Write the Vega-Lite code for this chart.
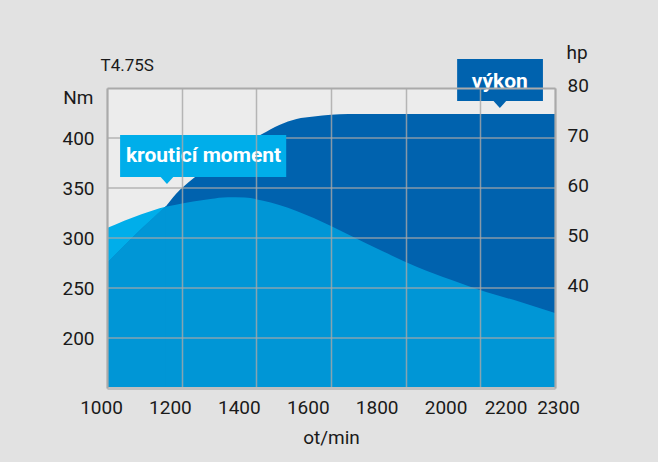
{
  "$schema": "https://vega.github.io/schema/vega-lite/v6.json",
  "width": 448,
  "height": 300,
  "autosize": {"type": "none"},
  "padding": {"left": 107, "top": 88, "right": 103, "bottom": 74},
  "background": "#e2e2e2",
  "config": {
    "view": {"fill": "#ececec", "stroke": null},
    "font": "Roboto",
    "axis": {
      "labelFont": "Roboto",
      "labelFontSize": 19,
      "labelColor": "#1a1a1a",
      "titleFont": "Roboto",
      "titleFontSize": 19,
      "titleFontWeight": "normal",
      "titleColor": "#1a1a1a",
      "ticks": false,
      "tickSize": 0,
      "domainColor": "#aaaaaa",
      "domainWidth": 2,
      "gridColor": "#a8a8a8",
      "gridOpacity": 0.8,
      "gridWidth": 1.5,
      "labelFlush": false,
      "labelOverlap": false
    }
  },
  "datasets": {
    "curves": [
      {"rpm": 1000, "torque": 310, "power": 45.0},
      {"rpm": 1100, "torque": 323.8, "power": 51.8},
      {"rpm": 1170, "torque": 331.3, "power": 56.26},
      {"rpm": 1200, "torque": 333.3, "power": 58.8},
      {"rpm": 1250, "torque": 336.5, "power": 61.9},
      {"rpm": 1300, "torque": 339, "power": 64.5},
      {"rpm": 1350, "torque": 340.7, "power": 66.8},
      {"rpm": 1400, "torque": 340.5, "power": 68.9},
      {"rpm": 1450, "torque": 337.5, "power": 70.8},
      {"rpm": 1500, "torque": 333, "power": 72.6},
      {"rpm": 1550, "torque": 327, "power": 73.8},
      {"rpm": 1600, "torque": 320, "power": 74.3},
      {"rpm": 1700, "torque": 303.5, "power": 74.8},
      {"rpm": 1800, "torque": 286.7, "power": 74.8},
      {"rpm": 1900, "torque": 271, "power": 74.8},
      {"rpm": 2000, "torque": 258, "power": 74.8},
      {"rpm": 2100, "torque": 246, "power": 74.8},
      {"rpm": 2200, "torque": 236, "power": 74.8},
      {"rpm": 2300, "torque": 225, "power": 74.8}
    ],
    "gridNm": [
      {"Nm": 200}, {"Nm": 250}, {"Nm": 300}, {"Nm": 350}, {"Nm": 400}
    ],
    "labels": [
      {"label": "krouticí moment", "x1": 1038, "x2": 1520, "y1": 403, "y2": 361, "tipX": 1174, "tipY": 357.5, "tx": 1280, "ty": 376},
      {"label": "výkon", "x1": 2016, "x2": 2265, "y1": 479, "y2": 437, "tipX": 2140, "tipY": 433.5, "tx": 2140, "ty": 450}
    ]
  },
  "resolve": {"scale": {"y": "independent"}, "axis": {"x": "independent", "y": "independent"}},
  "layer": [
    {
      "data": {"name": "curves"},
      "mark": {"type": "area", "color": "#00aeea", "interpolate": "monotone", "clip": true},
      "encoding": {
        "x": {
          "field": "rpm", "type": "quantitative",
          "scale": {"domain": [1000, 2300], "nice": false, "zero": false},
          "axis": {
            "orient": "bottom",
            "zindex": 1,
            "values": [1000, 1200, 1400, 1600, 1800, 2000, 2200, 2300],
            "format": "d",
            "grid": false,
            "labelPadding": 19,
            "labelBaseline": "middle",
            "labelOffset": {"condition": [{"test": "datum.value === 2200", "value": -15}, {"test": "datum.value === 2300", "value": 3}], "value": -6},
            "title": "ot/min",
            "titleY": 49,
            "titleBaseline": "middle",
            "domainColor": "#bfbfbf",
            "domainWidth": 3
          }
        },
        "y": {
          "field": "torque", "type": "quantitative",
          "scale": {"domain": [150, 450], "nice": false, "zero": false},
          "axis": {
            "orient": "left",
            "zindex": 1,
            "values": [200, 250, 300, 350, 400],
            "grid": false,
            "labelPadding": 13,
            "title": "Nm",
            "titleAngle": 0,
            "titleAlign": "right",
            "titleBaseline": "middle",
            "titleX": -14,
            "titleY": 9
          }
        },
        "y2": {"datum": 150}
      }
    },
    {
      "data": {"name": "curves"},
      "mark": {"type": "area", "color": "#0062ae", "interpolate": "monotone", "clip": true},
      "encoding": {
        "x": {
          "field": "rpm", "type": "quantitative",
          "scale": {"domain": [1000, 2300], "nice": false, "zero": false},
          "axis": {
            "orient": "top",
            "zindex": 1,
            "values": [1000, 1216.67, 1433.33, 1650, 1866.67, 2083.33, 2300],
            "grid": true,
            "labels": false,
            "title": "T4.75S",
            "titleX": -7,
            "titleY": -23,
            "titleAlign": "left",
            "titleBaseline": "middle",
            "titleFontSize": 17
          }
        },
        "y": {
          "field": "power", "type": "quantitative",
          "scale": {"domain": [20, 80], "nice": false, "zero": false},
          "axis": {
            "orient": "right",
            "zindex": 1,
            "values": [40, 50, 60, 70, 80],
            "grid": false,
            "labelPadding": 12,
            "labelOffset": -3,
            "title": "hp",
            "titleAngle": 0,
            "titleAlign": "left",
            "titleBaseline": "middle",
            "titleX": 11,
            "titleY": -36
          }
        },
        "y2": {"datum": 20}
      }
    },
    {
      "data": {"name": "curves"},
      "transform": [{"filter": "datum.rpm >= 1170"}],
      "mark": {"type": "area", "color": "#0096d6", "interpolate": "monotone", "clip": true},
      "encoding": {
        "x": {"field": "rpm", "type": "quantitative", "scale": {"domain": [1000, 2300], "nice": false, "zero": false}, "axis": null},
        "y": {"field": "torque", "type": "quantitative", "scale": {"domain": [150, 450], "nice": false, "zero": false}, "axis": null},
        "y2": {"datum": 150}
      }
    },
    {
      "data": {"name": "curves"},
      "transform": [{"filter": "datum.rpm <= 1170"}],
      "mark": {"type": "area", "color": "#0096d6", "stroke": "#0096d6", "strokeWidth": 1, "interpolate": "monotone", "clip": true},
      "encoding": {
        "x": {"field": "rpm", "type": "quantitative", "scale": {"domain": [1000, 2300], "nice": false, "zero": false}, "axis": null},
        "y": {"field": "power", "type": "quantitative", "scale": {"domain": [20, 80], "nice": false, "zero": false}, "axis": null},
        "y2": {"datum": 20}
      }
    },
    {
      "data": {"name": "gridNm"},
      "mark": {"type": "rule", "color": "#a8a8a8", "opacity": 0.8, "strokeWidth": 1.5},
      "encoding": {
        "y": {"field": "Nm", "type": "quantitative", "scale": {"domain": [150, 450], "nice": false, "zero": false}, "axis": null}
      }
    },
    {
      "data": {"name": "labels"},
      "mark": {"type": "rect", "zindex": 2},
      "encoding": {
        "x": {"field": "x1", "type": "quantitative", "scale": {"domain": [1000, 2300], "nice": false, "zero": false}, "axis": null},
        "x2": {"field": "x2"},
        "y": {"field": "y1", "type": "quantitative", "scale": {"domain": [150, 450], "nice": false, "zero": false}, "axis": null},
        "y2": {"field": "y2"},
        "color": {"field": "label", "type": "nominal", "scale": {"domain": ["krouticí moment", "výkon"], "range": ["#00aeea", "#0062ae"]}, "legend": null}
      }
    },
    {
      "data": {"name": "labels"},
      "mark": {"type": "point", "shape": "M -1 -0.6 L 1 -0.6 L 0 0.5 Z", "size": 196, "filled": true, "opacity": 1, "zindex": 2},
      "encoding": {
        "x": {"field": "tipX", "type": "quantitative", "scale": {"domain": [1000, 2300], "nice": false, "zero": false}, "axis": null},
        "y": {"field": "tipY", "type": "quantitative", "scale": {"domain": [150, 450], "nice": false, "zero": false}, "axis": null},
        "color": {"field": "label", "type": "nominal", "scale": {"domain": ["krouticí moment", "výkon"], "range": ["#00aeea", "#0062ae"]}, "legend": null}
      }
    },
    {
      "data": {"name": "labels"},
      "mark": {"type": "text", "font": "Roboto", "fontSize": 21, "fontWeight": "bold", "color": "#ffffff", "align": "center", "baseline": "alphabetic", "zindex": 2},
      "encoding": {
        "x": {"field": "tx", "type": "quantitative", "scale": {"domain": [1000, 2300], "nice": false, "zero": false}, "axis": null},
        "y": {"field": "ty", "type": "quantitative", "scale": {"domain": [150, 450], "nice": false, "zero": false}, "axis": null},
        "text": {"field": "label"}
      }
    }
  ]
}
